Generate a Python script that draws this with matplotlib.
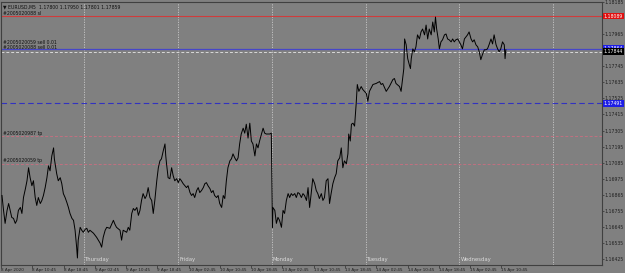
import numpy as np
import matplotlib
matplotlib.use("Agg")
from matplotlib import pyplot as plt
from matplotlib import transforms

# time axis: trading hours since 8 Apr 2020 00:00 (weekend removed)
hours = [
    3.0, 3.4, 3.8, 4.3, 4.7, 5.1, 5.5, 5.95, 6.4, 6.8, 7.2, 7.7, 8.1, 8.5, 9.0, 9.4, 9.8,
    10.2, 10.65, 11.05, 11.5, 11.9, 12.3, 12.8, 13.2, 13.6, 14.05, 14.5, 14.9, 15.3, 15.75,
    16.2, 16.4, 17.0, 17.4, 17.9, 18.3, 18.7, 19.15, 19.6, 20.0, 20.4, 20.9, 21.3, 21.7,
    22.1, 22.3, 22.5, 23.0, 23.4, 23.8, 24.3, 24.7, 25.1, 25.5, 26.4, 27.2, 28.1, 28.5,
    28.9, 29.4, 29.8, 30.6, 31.5, 31.9, 32.3, 33.2, 33.6, 34.0, 34.9, 35.3, 35.7,
    36.2, 36.6, 37.0, 37.5, 37.9, 38.3, 38.7, 39.1, 39.6, 40.0, 40.4, 40.85, 41.3, 41.7,
    42.1, 42.6, 43.0, 43.4, 43.8, 44.25, 44.7, 44.9, 45.1, 45.5, 45.95, 46.4, 46.8, 47.2,
    47.7, 48.1, 48.5, 48.9, 49.35, 49.8, 50.2, 50.6, 51.1, 51.5, 51.9, 52.3, 52.8, 53.2,
    53.6, 54.05, 54.5, 54.9, 55.3, 55.7, 56.2, 56.6, 57.0, 57.4, 57.9, 58.3, 58.7, 59.2,
    59.6, 60.0, 60.4, 60.8, 61.3, 61.7, 62.1, 62.55, 63.0, 63.4, 63.8, 64.2, 64.7, 65.1,
    65.5, 65.95, 66.4, 66.8, 67.2, 67.7, 68.1, 68.5, 68.9, 69.4, 69.8, 70.2, 70.6, 71.05,
    71.5, 71.9,
    72.2, 72.3, 72.8, 73.2, 73.6, 74.0, 74.5, 74.9, 75.3, 75.75, 76.2, 76.6, 77.0, 77.4,
    77.9, 78.3, 78.7, 79.1, 79.6, 80.0, 80.4, 80.9, 81.3, 81.7, 82.1, 82.5, 83.0, 83.4,
    83.8, 84.2, 84.7, 85.1, 85.5, 85.95, 86.4, 86.8, 87.2, 87.65, 88.1, 88.5, 88.9, 89.4,
    89.8, 90.2, 90.6, 91.1, 91.5, 91.7, 92.1, 92.4, 92.8, 93.2, 93.6, 93.9, 94.3,
    94.9, 95.3, 96.2, 96.6, 97.0, 97.9, 98.7, 99.6, 100.0, 100.4, 101.3, 102.1, 103.0,
    103.4, 103.8, 104.7, 105.1, 105.5, 105.8, 106.0, 106.4, 106.8, 107.2, 107.5, 107.7,
    108.1, 108.5, 108.9, 109.3, 109.8, 110.2, 110.6, 111.1, 111.5, 111.9, 112.3, 112.8,
    113.2, 113.6, 113.9, 114.2, 114.6, 114.9, 115.3, 115.7, 116.2, 116.6, 117.0, 117.4,
    117.9, 118.3, 118.7, 119.1, 119.6, 120.0, 120.4, 120.8, 121.3, 121.7, 122.1, 122.5,
    123.0, 123.4, 123.8, 124.25, 124.7, 125.1, 125.5, 125.9, 126.4, 126.8, 127.2, 127.6,
    128.1, 128.5, 128.9, 129.4, 129.8, 130.2, 130.6, 131.05, 131.5, 131.7, 131.9,
]
prices = [
    1.16860, 1.16758, 1.16669, 1.16758, 1.16805, 1.16758, 1.16710, 1.16703, 1.16669, 1.16690,
    1.16758, 1.16778, 1.16737, 1.16846, 1.16907, 1.16961, 1.17050, 1.16982, 1.16927, 1.16961,
    1.16846, 1.16792, 1.16846, 1.16805, 1.16826, 1.16860, 1.16914, 1.16982, 1.17063, 1.17029,
    1.17131, 1.17186, 1.17111, 1.17009, 1.16961, 1.16982, 1.16941, 1.16873, 1.16846, 1.16812,
    1.16778, 1.16737, 1.16703, 1.16690, 1.16622, 1.16506, 1.16432, 1.16554, 1.16642, 1.16622,
    1.16608, 1.16629, 1.16635, 1.16608, 1.16622, 1.16602, 1.16574, 1.16534, 1.16506, 1.16574,
    1.16622, 1.16642, 1.16635, 1.16690, 1.16663, 1.16642, 1.16622, 1.16554, 1.16622, 1.16608,
    1.16642, 1.16622,
    1.16737, 1.16771, 1.16758, 1.16778, 1.16724, 1.16758, 1.16826, 1.16873, 1.16839, 1.16860,
    1.16914, 1.16846, 1.16826, 1.16737, 1.16826, 1.16961, 1.17050, 1.17097, 1.17111, 1.17165,
    1.17213, 1.17131, 1.17077, 1.16982, 1.16975, 1.17050, 1.16995, 1.16961, 1.16975, 1.16948,
    1.16975, 1.16961, 1.16941, 1.16927, 1.16914, 1.16927, 1.16880, 1.16860, 1.16873, 1.16846,
    1.16894, 1.16914, 1.16880, 1.16894, 1.16914, 1.16941, 1.16948, 1.16927, 1.16907, 1.16880,
    1.16894, 1.16860, 1.16846, 1.16860, 1.16805, 1.16778, 1.16860, 1.16839, 1.16961, 1.17050,
    1.17097, 1.17111, 1.17145, 1.17118, 1.17097, 1.17118, 1.17213, 1.17281, 1.17321, 1.17287,
    1.17348, 1.17253, 1.17355, 1.17233, 1.17213, 1.17131, 1.17213, 1.17186, 1.17233, 1.17281,
    1.17321, 1.17287, 1.17281, 1.17281, 1.17281, 1.17287,
    1.16642, 1.16778, 1.16758, 1.16669, 1.16710, 1.16690, 1.16642, 1.16758, 1.16737, 1.16826,
    1.16873, 1.16846, 1.16873, 1.16860, 1.16873, 1.16846, 1.16880, 1.16873, 1.16846, 1.16873,
    1.16860, 1.16826, 1.16914, 1.16778, 1.16873, 1.16975, 1.16941, 1.16894, 1.16873, 1.16839,
    1.16873, 1.16826, 1.16846, 1.16961, 1.16975, 1.16805, 1.16873, 1.16941, 1.16982, 1.17009,
    1.17097, 1.17118, 1.17186, 1.17050, 1.17097, 1.17077, 1.17145, 1.17281, 1.17233, 1.17348,
    1.17355, 1.17335, 1.17484, 1.17620, 1.17573,
    1.17606, 1.17586, 1.17559, 1.17505, 1.17573, 1.17620, 1.17627, 1.17640, 1.17620, 1.17627,
    1.17573, 1.17606, 1.17654, 1.17661, 1.17627, 1.17606, 1.17573, 1.17661, 1.17729, 1.17932,
    1.17892, 1.17797, 1.17756, 1.17729, 1.17797, 1.17864, 1.17844, 1.17878, 1.17960, 1.17932,
    1.17980, 1.18000, 1.17960, 1.18027, 1.17932, 1.18000, 1.17960, 1.18048, 1.17980, 1.18082,
    1.18000, 1.17932, 1.17864, 1.17912, 1.17926, 1.17960, 1.17966, 1.17932, 1.17926, 1.17912,
    1.17932, 1.17912, 1.17926, 1.17932, 1.17912, 1.17892, 1.17864, 1.17932, 1.17946, 1.17960,
    1.17980, 1.17932, 1.17912, 1.17926, 1.17892, 1.17878, 1.17844, 1.17790, 1.17824, 1.17858,
    1.17858, 1.17864, 1.17892, 1.17932, 1.17898, 1.17960, 1.17892, 1.17864, 1.17844, 1.17864,
    1.17912, 1.17892, 1.17797, 1.17858,
]

# 1.17855 sits under the current-price box, so it is not labelled
price_ticks = [1.16425, 1.16535, 1.16645, 1.16755, 1.16865, 1.16975, 1.17085, 1.17195,
               1.17305, 1.17415, 1.17525, 1.17635, 1.17745, 1.17965, 1.18185]
time_ticks = [2.75, 10.75, 18.75, 26.75, 34.75, 42.75, 50.75, 58.75, 66.75, 74.75,
              82.75, 90.75, 98.75, 106.75, 114.75, 122.75, 130.75]
time_labels = ["8 Apr 2020", "8 Apr 10:45", "8 Apr 18:45", "9 Apr 02:45", "9 Apr 10:45",
               "9 Apr 18:45", "10 Apr 02:45", "10 Apr 10:45", "10 Apr 18:45", "13 Apr 02:45",
               "13 Apr 10:45", "13 Apr 18:45", "14 Apr 02:45", "14 Apr 10:45", "14 Apr 18:45",
               "15 Apr 02:45", "15 Apr 10:45"]
day_starts = [24, 48, 72, 96, 120, 144]
day_names = ["Thursday", "Friday", "Monday", "Tuesday", "Wednesday", ""]

sl_line = 1.18089
sell_line = 1.17864
bid_line = 1.17844
entry_line = 1.17491
tp_lines = [1.17267, 1.17077]
tp_labels = ["#2005020987 tp", "#2005020059 tp"]

bg = '#808080'
fig = plt.figure(figsize=(6.25, 2.73), dpi=100, facecolor=bg)
ax = fig.add_axes([1 / 625, 8 / 273, 601 / 625, 263 / 273], facecolor=bg)

ax.plot(hours, prices, color='black', lw=0.7, zorder=5)

xt = transforms.blended_transform_factory(ax.transData, ax.transAxes)
for d, name in zip(day_starts, day_names):
    ax.axvline(d, color='#c8c8c8', ls=(0, (1.5, 1.5)), lw=0.6, zorder=1)
    if name:
        ax.text(d + 0.3, 0.012, name, transform=xt,
                fontsize=3.8, color='#dcdcdc', ha='left', va='bottom')

ax.axhline(sl_line, color='#d03c3c', lw=0.8, zorder=2)
ax.axhline(sell_line, color='#4646c8', lw=0.9, zorder=2)
ax.axhline(bid_line, color='#d8d8d8', lw=0.7, ls=(0, (3, 2)), zorder=2)
ax.axhline(entry_line, color='#3232c0', lw=0.8, ls=(0, (5, 3)), zorder=2)
for tp in tp_lines:
    ax.axhline(tp, color='#c07080', lw=0.7, ls=(0, (3, 2)), zorder=2)

lt = transforms.blended_transform_factory(ax.transAxes, ax.transData)
small = dict(fontsize=3.3, color='#101010', ha='left', transform=lt)
ax.text(0.004, sl_line + 0.00003, "#2005020088 sl", va='bottom', **small)
ax.text(0.004, sell_line + 0.00026, "#2005020059 sell 0.01", va='bottom', **small)
ax.text(0.004, sell_line - 0.00005, "#2005020088 sell 0.01", va='bottom', **small)
for tp, lab in zip(tp_lines, tp_labels):
    ax.text(0.004, tp + 0.00003, lab, va='bottom', **small)
ax.text(0.004, 0.992, "\u25bc EURUSD,M5  1.17800 1.17950 1.17801 1.17859", transform=ax.transAxes,
        fontsize=3.3, color='#101010', ha='left', va='top')

# price boxes on the right
for val, fc in [(sl_line, '#e01010'), (sell_line, '#1e1ee6'), (bid_line, '#000000'), (entry_line, '#1e1ee6')]:
    ax.text(1.003, val, f"{val:.5f}", transform=lt, fontsize=3.3, color='white', ha='left', va='center',
            clip_on=False, zorder=10,
            bbox=dict(boxstyle='square,pad=0.2', facecolor=fc, edgecolor='none'))

ax.set_xlim(2.8, 156.5)
ax.set_ylim(1.16384, 1.18170)
ax.yaxis.tick_right()
ax.set_yticks(price_ticks)
ax.set_yticklabels([f"{p:.5f}" for p in price_ticks])
ax.set_xticks(time_ticks)
ax.set_xticklabels(time_labels, ha='left')
ax.tick_params(axis='y', labelsize=3.3, labelcolor='#202020', color='#303030', length=1.5, width=0.5, pad=0.4)
ax.tick_params(axis='x', labelsize=3.0, labelcolor='#202020', color='#303030', length=2, width=0.5, pad=0.5)
for s in ax.spines.values():
    s.set_color('#404040')
    s.set_linewidth(0.8)

fig.savefig('out.png', dpi=100, facecolor=bg)
